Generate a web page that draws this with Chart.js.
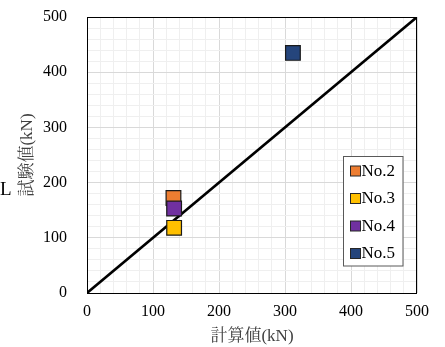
<!DOCTYPE html>
<html><head><meta charset="utf-8">
<script src="https://cdn.jsdelivr.net/npm/chart.js@4/dist/chart.umd.min.js"></script>
<style>html,body{margin:0;padding:0;background:#fff;}#wrap{width:445px;height:347px;position:relative;}</style>
</head><body><div id="wrap"><canvas id="c" width="445" height="347"></canvas></div>
<script>
const seriesNames = ['No.2', 'No.3', 'No.4', 'No.5'];
const calcValues = [131, 132, 132, 312];   // 計算値 (x)
const testValues = [172, 118, 153, 435];   // 試験値 (y)
const seriesColors = ['#ED7D31', '#FFC000', '#7030A0', '#25457C'];
const refLineX = [0, 500];
const refLineY = [0, 500];
const tickLabels = ['0', '100', '200', '300', '400', '500'];
const xTitle = '計算値(kN)';
const yTitle = '試験値(kN)';
const strayLabel = 'L';

const FONT = "'Liberation Serif', 'Noto Serif CJK JP', 'Noto Sans CJK JP', serif";

const datasets = seriesNames.map((n, i) => ({
  label: n,
  data: [{x: calcValues[i], y: testValues[i]}],
  pointStyle: 'rect',
  pointRadius: 10.4,
  pointHoverRadius: 10.4,
  backgroundColor: seriesColors[i],
  borderColor: '#1a1a1a',
  borderWidth: 1.2,
  showLine: false,
  order: [4, 3, 2, 1][i]
}));
datasets.push({
  label: 'ref',
  data: refLineX.map((x, i) => ({x: x, y: refLineY[i]})),
  showLine: true,
  borderColor: '#000',
  borderWidth: 2.6,
  pointRadius: 0,
  fill: false,
  order: 10
});

const gridColor = (ctx) => (ctx.tick && ctx.tick.value % 100 === 0) ? '#d9d9d9' : '#efefef';
const tickCb = (v) => (v % 100 === 0) ? tickLabels[v / 100] : '';

const extras = {
  id: 'extras',
  beforeDatasetsDraw(chart) {
    const {ctx, chartArea: a} = chart;
    ctx.save();
    ctx.strokeStyle = '#000';
    ctx.lineWidth = 1;
    ctx.strokeRect(Math.round(a.left) + 0.5, Math.round(a.top) + 0.5,
      Math.round(a.right - a.left) - 1, Math.round(a.bottom - a.top));
    ctx.restore();
  },
  afterDraw(chart) {
    const {ctx} = chart;
    ctx.save();
    const bx = 343.5, by = 156.5, bw = 59.5, bh = 109.5;
    ctx.fillStyle = '#fff';
    ctx.fillRect(bx, by, bw, bh);
    ctx.strokeStyle = '#595959';
    ctx.lineWidth = 1;
    ctx.strokeRect(bx, by, bw, bh);
    ctx.font = '17px ' + FONT;
    ctx.textBaseline = 'middle';
    ctx.textAlign = 'left';
    seriesNames.forEach((n, i) => {
      const cy = 171 + i * 27.5;
      ctx.fillStyle = seriesColors[i];
      ctx.fillRect(350.5, cy - 5, 10, 10);
      ctx.strokeStyle = '#262626';
      ctx.strokeRect(350.5, cy - 5, 10, 10);
      ctx.fillStyle = '#000';
      ctx.fillText(n, 361.5, cy + 0.5);
    });
    ctx.font = '19px ' + FONT;
    ctx.textBaseline = 'alphabetic';
    ctx.fillStyle = '#000';
    ctx.fillText(strayLabel, 0, 195);
    ctx.restore();
  }
};

new Chart(document.getElementById('c'), {
  type: 'scatter',
  data: {datasets},
  options: {
    responsive: false,
    animation: false,
    devicePixelRatio: 1,
    layout: {padding: {top: 17, right: 28, left: 0, bottom: 0}},
    plugins: {legend: {display: false}, tooltip: {enabled: false}},
    scales: {
      x: {
        type: 'linear', min: 0, max: 500,
        ticks: {stepSize: 20, autoSkip: false, maxRotation: 0, maxTicksLimit: 30, padding: 9,
          color: '#000', font: {family: FONT, size: 16}, callback: tickCb},
        grid: {color: gridColor, drawTicks: false, lineWidth: 1},
        border: {display: false},
        title: {display: true, text: xTitle, color: '#404040', font: {family: FONT, size: 17},
          padding: {top: 0, bottom: 0}},
        afterFit: (s) => { s.height = 54; s.paddingLeft = 0; s.paddingRight = 0; }
      },
      y: {
        type: 'linear', min: 0, max: 500,
        ticks: {stepSize: 20, autoSkip: false, maxTicksLimit: 30, padding: 20,
          color: '#000', font: {family: FONT, size: 16}, callback: tickCb},
        grid: {color: gridColor, drawTicks: false, lineWidth: 1},
        border: {display: false},
        title: {display: true, text: yTitle, color: '#404040', font: {family: FONT, size: 17},
          padding: {top: 17, bottom: 0}},
        afterFit: (s) => { s.width = 87; s.paddingTop = 0; s.paddingBottom = 0; }
      }
    }
  },
  plugins: [extras]
});
</script></body></html>
